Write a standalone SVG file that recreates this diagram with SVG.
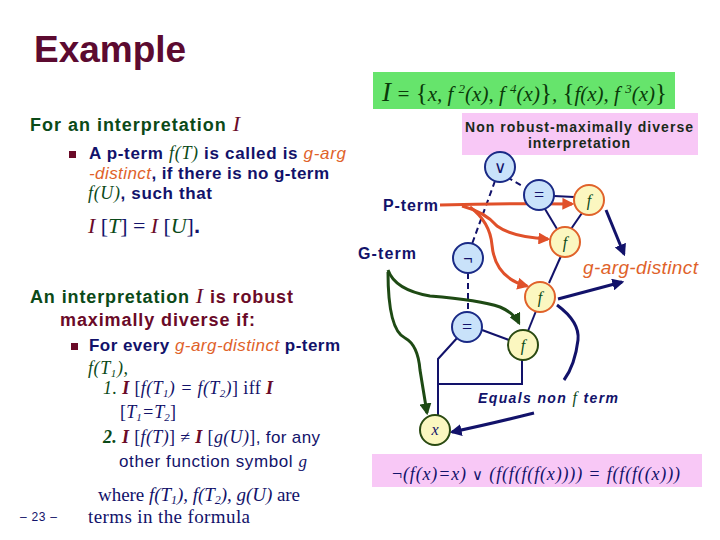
<svg xmlns="http://www.w3.org/2000/svg" width="720" height="540" viewBox="0 0 720 540">
<defs>
<style>
.sans{font-family:"Liberation Sans",Arial,sans-serif}
.serif{font-family:"Liberation Serif","Times New Roman",serif}
.b{font-weight:bold}
.i{font-style:italic}
.navy{fill:#12126a}
.grn{fill:#0b4a18}
.mar{fill:#6a0a28}
.org{fill:#e0622a}
.nb{fill:#c9e2fa;stroke:#1a2a86;stroke-width:2}
.no{fill:#fbf7c0;stroke:#e0622a;stroke-width:2}
.ng{fill:#fbf7c0;stroke:#2a4a12;stroke-width:2}
.ln{fill:none;stroke:#12126a;stroke-width:2}
.dl{fill:none;stroke:#12126a;stroke-width:2;stroke-dasharray:6,4}
.oa{fill:none;stroke:#e0502a;stroke-width:3}
.ga{fill:none;stroke:#1e4a14;stroke-width:3}
.na{fill:none;stroke:#12126a;stroke-width:3}
</style>
<marker id="ao" viewBox="0 0 10 10" refX="8" refY="5" markerWidth="4" markerHeight="4" orient="auto"><path d="M0,0L10,5L0,10z" fill="#e0502a"/></marker>
<marker id="ag" viewBox="0 0 10 10" refX="8" refY="5" markerWidth="4" markerHeight="4" orient="auto"><path d="M0,0L10,5L0,10z" fill="#1e4a14"/></marker>
<marker id="an" viewBox="0 0 10 10" refX="8" refY="5" markerWidth="4" markerHeight="4" orient="auto"><path d="M0,0L10,5L0,10z" fill="#12126a"/></marker>
</defs>
<rect width="720" height="540" fill="#fff"/>

<text x="34" y="62" class="sans b" font-size="37" fill="#5c0a30">Example</text>

<g id="formula-box">
<rect x="373" y="72" width="302" height="37" fill="#66e46c"/>
<text x="382" y="101" textLength="285" lengthAdjust="spacing" class="serif i" font-size="21" fill="#0a3a0a"><tspan font-size="27">I</tspan> = <tspan font-size="25" font-style="normal">{</tspan>x, f <tspan font-size="13" dy="-8">2</tspan><tspan dy="8">(x), f </tspan><tspan font-size="13" dy="-8">4</tspan><tspan dy="8">(x)</tspan><tspan font-size="25" font-style="normal">}</tspan>, <tspan font-size="25" font-style="normal">{</tspan>f(x), f <tspan font-size="13" dy="-8">3</tspan><tspan dy="8">(x)</tspan><tspan font-size="25" font-style="normal">}</tspan></text>
</g>

<g id="nonrobust-box">
<rect x="462" y="113" width="236" height="42" fill="#f8c8f6"/>
<text x="465" y="132" textLength="228" lengthAdjust="spacing" class="sans b" font-size="14" fill="#1a2a1a">Non robust-maximally diverse</text>
<text x="528" y="148" textLength="102" lengthAdjust="spacing" class="sans b" font-size="14" fill="#1a2a1a">interpretation</text>
</g>

<g id="left-text">
<text x="30" y="131" textLength="210" lengthAdjust="spacing" class="sans b" font-size="18"><tspan class="grn">For an interpretation </tspan><tspan class="serif i mar" font-weight="normal" font-size="22">I</tspan></text>
<rect x="69" y="151" width="7" height="7" fill="#6a0a28"/>
<text x="89" y="159" textLength="257" lengthAdjust="spacing" class="sans b navy" font-size="17">A p-term <tspan class="serif i grn" font-weight="normal" font-size="18">f(T)</tspan> is called  is <tspan class="i org" font-weight="normal">g-arg</tspan></text>
<text x="89" y="179" textLength="240" lengthAdjust="spacing" class="sans b navy" font-size="17"><tspan class="i org" font-weight="normal">-distinct</tspan>, if there is no g-term</text>
<text x="88" y="199" textLength="124" lengthAdjust="spacing" class="sans b navy" font-size="17"><tspan class="serif i grn" font-weight="normal" font-size="18">f(U)</tspan>, such that</text>
<text x="88" y="233" textLength="112" lengthAdjust="spacing" class="serif" font-size="22"><tspan class="i mar">I</tspan><tspan class="navy"> [</tspan><tspan class="i grn">T</tspan><tspan class="navy">] = </tspan><tspan class="i mar">I</tspan><tspan class="navy"> [</tspan><tspan class="i grn">U</tspan><tspan class="navy">]</tspan><tspan class="sans b navy">.</tspan></text>

<text x="30" y="303" textLength="263" lengthAdjust="spacing" class="sans b" font-size="18"><tspan class="grn">An interpretation </tspan><tspan class="serif i mar" font-weight="normal" font-size="22">I</tspan><tspan class="mar"> is robust</tspan></text>
<text x="60" y="326" textLength="195" lengthAdjust="spacing" class="sans b mar" font-size="18">maximally diverse if:</text>
<rect x="71" y="343" width="7" height="7" fill="#6a0a28"/>
<text x="89" y="351" textLength="251" lengthAdjust="spacing" class="sans b navy" font-size="17">For every <tspan class="i org" font-weight="normal">g-arg-distinct</tspan> p-term</text>
<text x="88" y="374" textLength="40" lengthAdjust="spacing" class="serif i grn" font-size="18">f(T<tspan font-size="11" dy="3">1</tspan><tspan dy="-3">),</tspan></text>
<text x="103" y="394" textLength="170" lengthAdjust="spacing" class="serif" font-size="18"><tspan class="i grn">1. </tspan><tspan class="i b mar">I</tspan><tspan class="navy"> [</tspan><tspan class="i navy">f(T<tspan font-size="11" dy="3">1</tspan><tspan dy="-3">) = f(T</tspan><tspan font-size="11" dy="3">2</tspan><tspan dy="-3">)</tspan></tspan><tspan class="navy">] iff </tspan><tspan class="i b mar">I</tspan></text>
<text x="120" y="418" textLength="56" lengthAdjust="spacing" class="serif navy" font-size="18">[<tspan class="i">T<tspan font-size="11" dy="3">1</tspan><tspan dy="-3">=T</tspan><tspan font-size="11" dy="3">2</tspan></tspan><tspan dy="-3">]</tspan></text>
<text x="103" y="443" textLength="217" lengthAdjust="spacing" class="serif" font-size="18"><tspan class="i b grn">2. </tspan><tspan class="i b mar">I</tspan><tspan class="navy"> [</tspan><tspan class="i navy">f(T)</tspan><tspan class="navy">] ≠ </tspan><tspan class="i b mar">I</tspan><tspan class="navy"> [</tspan><tspan class="i navy">g(U)</tspan><tspan class="navy">]</tspan><tspan class="sans navy" font-size="17">, for any</tspan></text>
<text x="119" y="467" textLength="188" lengthAdjust="spacing" class="sans navy" font-size="17">other function symbol <tspan class="serif i">g</tspan></text>
<text x="98" y="501" textLength="202" lengthAdjust="spacing" class="serif navy" font-size="19">where <tspan class="i">f(T<tspan font-size="12" dy="3">1</tspan><tspan dy="-3">), f(T</tspan><tspan font-size="12" dy="3">2</tspan><tspan dy="-3">), g(U)</tspan></tspan> are</text>
<text x="88" y="523" textLength="162" lengthAdjust="spacing" class="serif navy" font-size="19">terms in the formula</text>
<text x="20" y="521" textLength="37" lengthAdjust="spacing" class="sans navy" font-size="12">– 23 –</text>
</g>

<g id="connectors">
<path class="dl" d="M507,177 L524,187"/>
<path class="dl" d="M495,181 L472,244"/>
<path class="dl" d="M468,273 L468,312"/>
<path class="ln" d="M554,196 L574,197"/>
<path class="ln" d="M545,209 L557,229"/>
<path class="ln" d="M582,213 L571,229"/>
<path class="ln" d="M561,256 L549,283"/>
<path class="ln" d="M536,311 L528,331"/>
<path class="ln" d="M482,330 L509,340"/>
<path class="ln" d="M458,337 L438,359 L438,416"/>
<path class="ln" d="M438,384 L522,384 L522,360"/>
<path class="oa" d="M440,205 Q510,203 572,204" marker-end="url(#ao)"/>
<path class="oa" d="M462,206 Q485,212 497,226 Q512,237 548,239" marker-end="url(#ao)"/>
<path class="oa" d="M470,207 Q490,222 492,245 Q495,278 527,286" marker-end="url(#ao)"/>
<path class="ga" d="M388,270 Q395,290 430,296 Q480,300 500,307 Q514,313 519,323" marker-end="url(#ag)"/>
<path class="ga" d="M388,272 Q388,330 405,338 Q418,345 420,370 L427,413" marker-end="url(#ag)"/>
<path class="na" d="M606,210 L624,254" marker-end="url(#an)"/>
<path class="na" d="M558,299 L622,282" marker-end="url(#an)"/>
<path class="na" d="M557,305 Q580,322 578,340 Q575,365 564,380"/>
<path class="na" d="M534,413 Q490,424 452,432" marker-end="url(#an)"/>
</g>

<g id="labels">
<text x="383" y="211" textLength="55" lengthAdjust="spacing" class="sans b navy" font-size="16">P-term</text>
<text x="358" y="259" textLength="58" lengthAdjust="spacing" class="sans b navy" font-size="16">G-term</text>
<text x="583" y="274" textLength="115" lengthAdjust="spacing" class="sans i org" font-size="19">g-arg-distinct</text>
<text x="478" y="403" textLength="140" lengthAdjust="spacing" class="sans b i navy" font-size="14">Equals non <tspan class="serif grn" font-weight="normal" font-size="16">f</tspan>  term</text>
</g>

<g id="node-or"><circle cx="500" cy="167" r="15" class="nb"/><text x="500" y="173" text-anchor="middle" class="sans navy" font-size="17">∨</text></g>
<g id="node-eq1"><circle cx="539" cy="195" r="15" class="nb"/><text x="539" y="201" text-anchor="middle" class="serif navy" font-size="18">=</text></g>
<g id="node-f1"><circle cx="589" cy="200" r="15" class="no"/><text x="589" y="206" text-anchor="middle" class="serif i grn" font-size="16">f</text></g>
<g id="node-f2"><circle cx="565" cy="242" r="15" class="no"/><text x="565" y="248" text-anchor="middle" class="serif i grn" font-size="16">f</text></g>
<g id="node-not"><circle cx="468" cy="258" r="15" class="nb"/><text x="468" y="264" text-anchor="middle" class="sans navy" font-size="16">¬</text></g>
<g id="node-f3"><circle cx="540" cy="297" r="15" class="no"/><text x="540" y="303" text-anchor="middle" class="serif i grn" font-size="16">f</text></g>
<g id="node-eq2"><circle cx="467" cy="327" r="15" class="nb"/><text x="467" y="333" text-anchor="middle" class="serif navy" font-size="18">=</text></g>
<g id="node-f4"><circle cx="523" cy="345" r="15" class="ng"/><text x="523" y="351" text-anchor="middle" class="serif i grn" font-size="16">f</text></g>
<g id="node-x"><circle cx="435" cy="430" r="15" class="ng"/><text x="435" y="435" text-anchor="middle" class="serif i navy" font-size="16">x</text></g>

<g id="bottom-box">
<rect x="372" y="454" width="330" height="33" fill="#f8c8f6"/>
<text x="392" y="480" textLength="288" lengthAdjust="spacing" class="serif i navy" font-size="18"><tspan font-style="normal">¬</tspan>(f(x)=x) <tspan font-style="normal" class="sans" font-size="15">∨</tspan>  (f(f(f(f(x)))) = f(f(f((x)))</text>
</g>
</svg>
